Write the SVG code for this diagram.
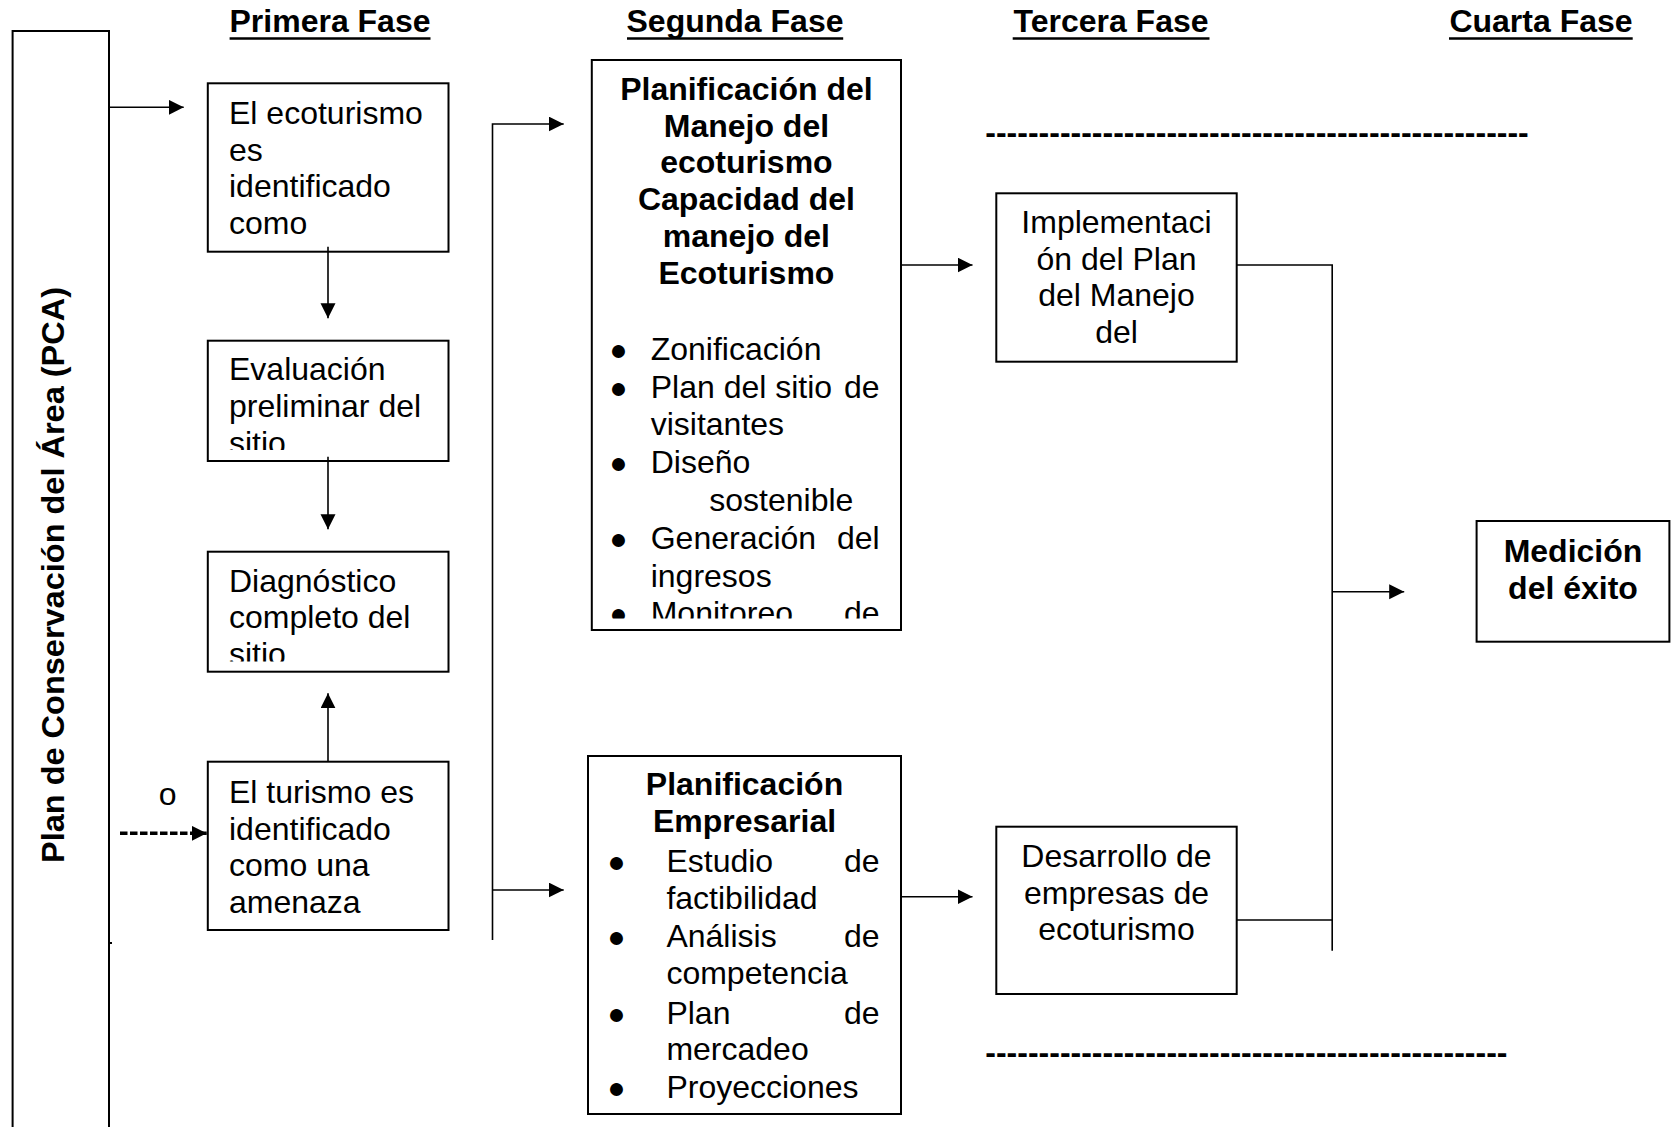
<svg xmlns="http://www.w3.org/2000/svg" width="1676" height="1127" viewBox="0 0 1676 1127">
<style>
text{font-family:"Liberation Sans",Arial,sans-serif;font-size:32px;fill:#000}
.b{font-weight:bold}
.c{text-anchor:middle}
.e{text-anchor:end}
.bu{text-anchor:middle;font-size:30px}
.box{fill:#fff;stroke:#000;stroke-width:2}
.ln{fill:none;stroke:#000;stroke-width:1.6}
.ul{stroke:#000;stroke-width:2.7}
</style>
<defs>
<marker id="ah" markerUnits="userSpaceOnUse" markerWidth="16" markerHeight="16" refX="15" refY="7.5" orient="auto"><path d="M0,0 L15,7.5 L0,15 z" fill="#000"/></marker>
<clipPath id="cEval"><rect x="200" y="330" width="260" height="120"/></clipPath>
<clipPath id="cDiag"><rect x="200" y="540" width="260" height="121.5"/></clipPath>
<clipPath id="cPlan"><rect x="590" y="55" width="320" height="563.5"/></clipPath>
</defs>

<g id="headers">
<text class="b c" x="330" y="32">Primera Fase</text>
<line class="ul" x1="229.6" y1="38.5" x2="430.5" y2="38.5"/>
<text class="b c" x="735" y="32">Segunda Fase</text>
<line class="ul" x1="627" y1="38.5" x2="843.2" y2="38.5"/>
<text class="b c" x="1111" y="32">Tercera Fase</text>
<line class="ul" x1="1012.7" y1="38.5" x2="1209.5" y2="38.5"/>
<text class="b c" x="1541" y="32">Cuarta Fase</text>
<line class="ul" x1="1449" y1="38.5" x2="1632.7" y2="38.5"/>
</g>

<g id="pca">
<rect class="box" x="12.6" y="31" width="96.4" height="1120"/>
<text class="b" transform="translate(64,863) rotate(-90)" x="0" y="0" textLength="576" lengthAdjust="spacingAndGlyphs">Plan de Conservación del Área (PCA)</text>
<line x1="109" y1="943" x2="112" y2="943" stroke="#000" stroke-width="2"/>
</g>

<g id="ecoturismo">
<rect class="box" x="207.8" y="83.3" width="240.7" height="168.4"/>
<text x="229" y="124">El ecoturismo</text>
<text x="229" y="160.7">es</text>
<text x="229" y="197.4">identificado</text>
<text x="229" y="234.1">como</text>
</g>

<g id="evaluacion">
<rect class="box" x="207.8" y="340.7" width="240.7" height="120.3"/>
<g clip-path="url(#cEval)">
<text x="229" y="380">Evaluación</text>
<text x="229" y="417">preliminar del</text>
<text x="229" y="454">sitio</text>
</g>
</g>

<g id="diagnostico">
<rect class="box" x="207.8" y="551.7" width="240.7" height="120"/>
<g clip-path="url(#cDiag)">
<text x="229" y="591.7">Diagnóstico</text>
<text x="229" y="628.4">completo del</text>
<text x="229" y="665.1">sitio</text>
</g>
</g>

<g id="turismo">
<rect class="box" x="207.8" y="761.7" width="240.7" height="168.3"/>
<text x="229" y="803">El turismo es</text>
<text x="229" y="839.7">identificado</text>
<text x="229" y="876.4">como una</text>
<text x="229" y="913">amenaza</text>
</g>

<g id="label-o">
<text class="c" x="167.6" y="805">o</text>
</g>

<g id="planificacion-manejo">
<rect class="box" x="591.8" y="60" width="309.2" height="570"/>
<g clip-path="url(#cPlan)">
<text class="b c" x="746.4" y="100">Planificación del</text>
<text class="b c" x="746.4" y="136.7">Manejo del</text>
<text class="b c" x="746.4" y="173.4">ecoturismo</text>
<text class="b c" x="746.4" y="210.1">Capacidad del</text>
<text class="b c" x="746.4" y="246.8">manejo del</text>
<text class="b c" x="746.4" y="283.5">Ecoturismo</text>
<text class="bu" x="618.2" y="360">●</text><text x="650.7" y="360">Zonificación</text>
<text class="bu" x="618.2" y="398">●</text><text x="650.7" y="398">Plan del sitio</text><text class="e" x="879.6" y="398">de</text>
<text x="650.7" y="435.3">visitantes</text>
<text class="bu" x="618.2" y="473.3">●</text><text x="650.7" y="473.3">Diseño</text>
<text x="709.3" y="511">sostenible</text>
<text class="bu" x="618.2" y="549">●</text><text x="650.7" y="549">Generación</text><text class="e" x="879.6" y="549">del</text>
<text x="650.7" y="586.7">ingresos</text>
<text class="bu" x="618.2" y="624.4">●</text><text x="650.7" y="624.4">Monitoreo</text><text class="e" x="879.6" y="624.4">de</text>
</g>
</g>

<g id="planificacion-empresarial">
<rect class="box" x="588" y="756" width="313" height="358"/>
<text class="b c" x="744.5" y="795">Planificación</text>
<text class="b c" x="744.5" y="831.7">Empresarial</text>
<text class="bu" x="616.3" y="872">●</text><text x="666.4" y="872">Estudio</text><text class="e" x="879.6" y="872">de</text>
<text x="666.4" y="909">factibilidad</text>
<text class="bu" x="616.3" y="947">●</text><text x="666.4" y="947">Análisis</text><text class="e" x="879.6" y="947">de</text>
<text x="666.4" y="984">competencia</text>
<text class="bu" x="616.3" y="1023.5">●</text><text x="666.4" y="1023.5">Plan</text><text class="e" x="879.6" y="1023.5">de</text>
<text x="666.4" y="1060">mercadeo</text>
<text class="bu" x="616.3" y="1097.5">●</text><text x="666.4" y="1097.5">Proyecciones</text>
</g>

<g id="implementacion">
<rect class="box" x="996.3" y="193.3" width="240.4" height="168.4"/>
<text class="c" x="1116.5" y="233">Implementaci</text>
<text class="c" x="1116.5" y="269.5">ón del Plan</text>
<text class="c" x="1116.5" y="306">del Manejo</text>
<text class="c" x="1116.5" y="342.5">del</text>
</g>

<g id="desarrollo">
<rect class="box" x="996.3" y="826.7" width="240.4" height="167.3"/>
<text class="c" x="1116.5" y="867">Desarrollo de</text>
<text class="c" x="1116.5" y="903.5">empresas de</text>
<text class="c" x="1116.5" y="940">ecoturismo</text>
</g>

<g id="medicion">
<rect class="box" x="1476.6" y="521" width="192.8" height="120.7"/>
<text class="b c" x="1573" y="562">Medición</text>
<text class="b c" x="1573" y="599">del éxito</text>
</g>

<g id="dashes">
<text class="b" x="985.3" y="143">---------------------------------------------------</text>
<text class="b" x="985.3" y="1063">-------------------------------------------------</text>
</g>

<g id="connectors">
<line class="ln" x1="110" y1="107.3" x2="183.7" y2="107.3" marker-end="url(#ah)"/>
<line class="ln" x1="328" y1="246.7" x2="328" y2="318.3" marker-end="url(#ah)"/>
<line class="ln" x1="328" y1="456.7" x2="328" y2="529.3" marker-end="url(#ah)"/>
<line class="ln" x1="328" y1="761.7" x2="328" y2="693.3" marker-end="url(#ah)"/>
<line x1="120" y1="833.3" x2="206.7" y2="833.3" stroke="#000" stroke-width="3.5" stroke-dasharray="7.5 2.5" marker-end="url(#ah)"/>
<path class="ln" d="M492.5,940 V124 H563.7" marker-end="url(#ah)"/>
<line class="ln" x1="492.5" y1="890" x2="563.7" y2="890" marker-end="url(#ah)"/>
<line class="ln" x1="901" y1="265" x2="972.5" y2="265" marker-end="url(#ah)"/>
<line class="ln" x1="901" y1="896.7" x2="972.5" y2="896.7" marker-end="url(#ah)"/>
<path class="ln" d="M1236.7,265 H1332.2 V950.7"/>
<line class="ln" x1="1236.7" y1="920" x2="1332.2" y2="920"/>
<line class="ln" x1="1332.2" y1="591.7" x2="1404.2" y2="591.7" marker-end="url(#ah)"/>
</g>
</svg>
